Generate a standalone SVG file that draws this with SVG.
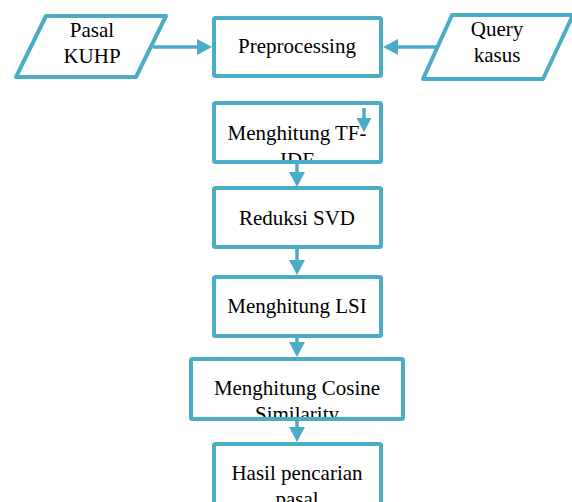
<svg xmlns="http://www.w3.org/2000/svg" width="572" height="502" viewBox="0 0 572 502">
<style>
.box{fill:#fff;stroke:#4BACC6;stroke-width:4;stroke-linejoin:round}
.t{font-family:"Liberation Serif","Times New Roman",serif;font-size:21px;fill:#000;text-anchor:middle}
.ln{stroke:#4BACC6;stroke-width:3.5;fill:none}
.ah{fill:#4BACC6;stroke:none}
</style>
<defs>
<clipPath id="cTF"><rect x="216" y="105" width="163" height="55"/></clipPath>
<clipPath id="cCos"><rect x="193" y="361" width="208" height="56"/></clipPath>
</defs>
<rect width="572" height="502" fill="#fff"/>
<g id="pasal">
<polygon class="box" points="46,16 166,16 136,77 16,77"/>
<text class="t" x="92" y="37">Pasal</text>
<text class="t" x="92" y="63">KUHP</text>
</g>
<g id="query">
<polygon class="box" points="452,15 573,15 543,79 423,79"/>
<text class="t" x="497" y="36">Query</text>
<text class="t" x="497" y="62">kasus</text>
</g>
<g id="preprocessing">
<rect class="box" x="214" y="18" width="167" height="58" rx="1.5"/>
<text class="t" x="297" y="53">Preprocessing</text>
</g>
<g id="tfidf">
<rect class="box" x="214" y="103" width="167" height="59" rx="1.5"/>
<g clip-path="url(#cTF)">
<text class="t" x="297" y="140">Menghitung TF-</text>
<text class="t" x="297" y="167">IDF</text>
</g>
</g>
<g id="svd">
<rect class="box" x="214" y="188" width="167" height="59" rx="1.5"/>
<text class="t" x="297" y="225">Reduksi SVD</text>
</g>
<g id="lsi">
<rect class="box" x="214" y="277" width="167" height="59" rx="1.5"/>
<text class="t" x="297" y="313">Menghitung LSI</text>
</g>
<g id="cosine">
<rect class="box" x="191" y="359" width="212" height="60" rx="1.5"/>
<g clip-path="url(#cCos)">
<text class="t" x="297" y="395">Menghitung Cosine</text>
<text class="t" x="297" y="421">Similarity</text>
</g>
</g>
<g id="hasil">
<rect class="box" x="214" y="444" width="167" height="80" rx="1.5"/>
<text class="t" x="297" y="480">Hasil pencarian</text>
<text class="t" x="297" y="506">pasal</text>
</g>
<g id="connectors">
<line class="ln" x1="153" y1="47" x2="199" y2="47"/>
<polygon class="ah" points="197,39 212,47 197,55"/>
<line class="ln" x1="437" y1="47" x2="396" y2="47"/>
<polygon class="ah" points="398,39 383,47 398,55"/>
<line class="ln" x1="364" y1="108" x2="364" y2="120"/>
<polygon class="ah" points="356.5,118 364,132 371.5,118"/>
<line class="ln" x1="297" y1="163" x2="297" y2="174"/>
<polygon class="ah" points="289,172 297,187 305,172"/>
<line class="ln" x1="297" y1="248" x2="297" y2="262"/>
<polygon class="ah" points="289,260 297,275 305,260"/>
<line class="ln" x1="297" y1="337" x2="297" y2="344"/>
<polygon class="ah" points="289,342 297,357 305,342"/>
<line class="ln" x1="297" y1="420" x2="297" y2="429"/>
<polygon class="ah" points="289,427 297,442 305,427"/>
</g>
</svg>
